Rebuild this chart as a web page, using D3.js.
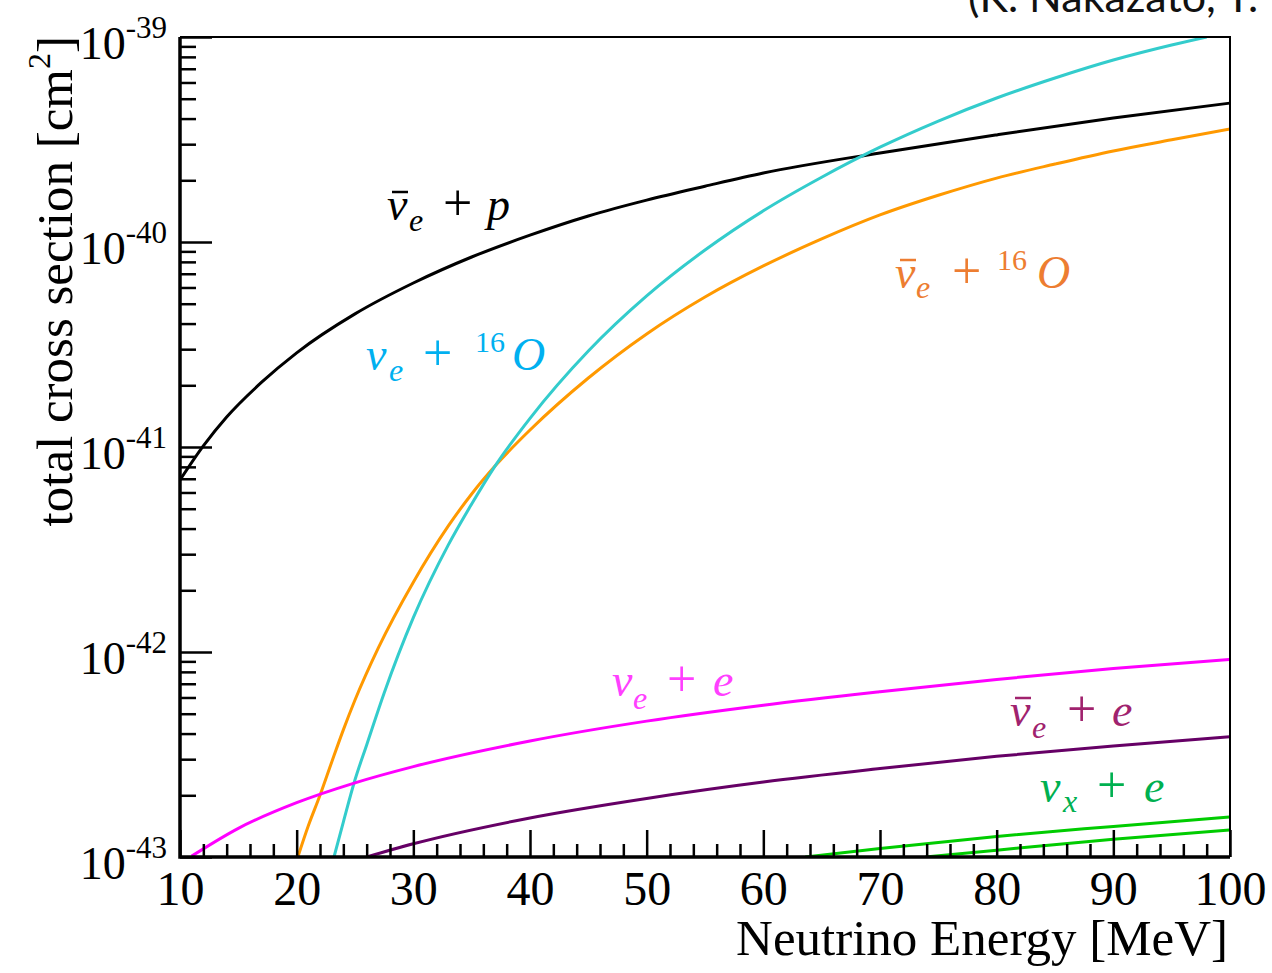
<!DOCTYPE html>
<html>
<head>
<meta charset="UTF-8">
<title>Neutrino cross sections</title>
<script src="https://d3js.org/d3.v7.min.js"></script>
<style>
html, body { margin: 0; padding: 0; background: white; }
svg { display: block; }
.axis text { font-family: 'Liberation Serif', 'Times New Roman', serif; fill: black; }
.lbl { font-family: 'Liberation Serif', 'Times New Roman', serif; }
</style>
</head>
<body>
<script>
/*global d3*/
// total cross sections [cm^2] vs neutrino energy [MeV]

var ibdE  = [10, 12, 14, 17, 20, 25, 30, 35, 40, 45, 50, 55, 60, 70, 80, 90, 100];
var ibdXS = [6.9e-42, 1.012e-41, 1.4e-41, 2.07e-41, 2.88e-41, 4.46e-41, 6.31e-41, 8.45e-41,
             1.08e-40, 1.34e-40, 1.6e-40, 1.87e-40, 2.17e-40, 2.72e-40, 3.33e-40, 4.03e-40, 4.76e-40];

var nueOE  = [23.2, 24, 25, 26, 27.5, 30, 33, 35, 37, 40, 45, 50, 55, 60, 65, 70, 75, 80, 85, 90, 95, 98];
var nueOXS = [1.0e-43, 1.48e-43, 2.38e-43, 3.52e-43, 6.31e-43, 1.47e-42, 3.33e-42, 5.27e-42, 8.07e-42,
              1.38e-41, 2.94e-41, 5.46e-41, 9.14e-41, 1.42e-40, 2.07e-40, 2.9e-40, 3.89e-40, 5.04e-40,
              6.31e-40, 7.72e-40, 9.14e-40, 1.0e-39];

var nuebOE  = [20.1, 21, 22, 23, 24, 25, 27, 30, 33, 35, 37, 40, 45, 50, 55, 60, 65, 70, 75, 80, 85, 90, 95, 100];
var nuebOXS = [1.0e-43, 1.42e-43, 2.0e-43, 2.9e-43, 4.17e-43, 5.83e-43, 1.047e-42, 2.19e-42, 4.12e-42,
               5.9e-42, 8.07e-42, 1.21e-41, 2.17e-41, 3.56e-41, 5.39e-41, 7.64e-41, 1.035e-40, 1.355e-40,
               1.69e-40, 2.05e-40, 2.4e-40, 2.78e-40, 3.15e-40, 3.56e-40];

var nueeE  = [11, 15, 20, 25, 30, 40, 50, 60, 70, 80, 90, 100];
var nueeXS = [1.01e-43, 1.38e-43, 1.84e-43, 2.3e-43, 2.76e-43, 3.68e-43, 4.6e-43, 5.5e-43, 6.4e-43, 7.35e-43, 8.3e-43, 9.2e-43];

var nuebeE  = [26, 30, 40, 50, 60, 70, 80, 90, 100];
var nuebeXS = [1.0e-43, 1.16e-43, 1.55e-43, 1.93e-43, 2.32e-43, 2.7e-43, 3.1e-43, 3.48e-43, 3.86e-43];

var nuxeE  = [63.6, 70, 80, 90, 100];
var nuxeXS = [1.0e-43, 1.1e-43, 1.26e-43, 1.41e-43, 1.57e-43];

var nuxbeE  = [73.9, 80, 90, 100];
var nuxbeXS = [1.0e-43, 1.08e-43, 1.22e-43, 1.355e-43];

var xMajor = [10, 20, 30, 40, 50, 60, 70, 80, 90, 100];
var yMajor = [1e-43, 1e-42, 1e-41, 1e-40, 1e-39];
var yExp   = ["-43", "-42", "-41", "-40", "-39"];

var width = 1272,
    height = 973;

var svg = d3.select("body").append("svg")
    .attr("width", width)
    .attr("height", height);

var x = d3.scaleLinear().domain([10, 100]).range([180, 1230]);
var y = d3.scaleLog().domain([1e-43, 1e-39]).range([857, 37]);

svg.append("clipPath").attr("id", "plot")
  .append("rect")
    .attr("x", x(10)).attr("y", y(1e-39))
    .attr("width", x(100) - x(10)).attr("height", y(1e-43) - y(1e-39));

var series = [
    {e: ibdE,   s: ibdXS,   c: "#000000"},
    {e: nuebOE, s: nuebOXS, c: "#ff9900"},
    {e: nueOE,  s: nueOXS,  c: "#33cccc"},
    {e: nueeE,  s: nueeXS,  c: "#ff00ff"},
    {e: nuebeE, s: nuebeXS, c: "#660066"},
    {e: nuxeE,  s: nuxeXS,  c: "#00cc00"},
    {e: nuxbeE, s: nuxbeXS, c: "#00cc00"}
];

var line = d3.line()
    .x(function(d) { return x(d[0]); })
    .y(function(d) { return y(d[1]); })
    .curve(d3.curveMonotoneX);

var curves = svg.append("g").attr("clip-path", "url(#plot)");
series.forEach(function(sr) {
    curves.append("path")
        .datum(d3.zip(sr.e, sr.s))
        .attr("d", line)
        .attr("fill", "none")
        .attr("stroke", sr.c)
        .attr("stroke-width", 3);
});

// frame (top / right)
svg.append("path")
    .attr("d", "M" + x(10) + "," + y(1e-39) + "H" + x(100) + "V" + y(1e-43))
    .attr("fill", "none")
    .attr("stroke", "black")
    .attr("stroke-width", 2);

// x axis
var xMinor = d3.range(12, 100, 2).filter(function(v) { return v % 10 != 0; });

svg.append("g")
    .attr("class", "axis")
    .attr("transform", "translate(0," + y(1e-43) + ")")
    .call(d3.axisBottom(x).tickValues(xMinor).tickSize(-13).tickSizeOuter(0).tickFormat(""))
    .call(function(g) { g.select(".domain").remove(); });

var xa = svg.append("g")
    .attr("class", "axis")
    .attr("transform", "translate(0," + y(1e-43) + ")")
    .call(d3.axisBottom(x).tickValues(xMajor).tickSize(-27).tickSizeOuter(0).tickPadding(14).tickFormat(d3.format("d")));
xa.select(".domain").remove();
xa.selectAll("text").style("font-size", "48px");

// y axis, minor ticks 2..9 per decade
var yMinor = [];
for (var k = -43; k < -39; k++) {
    for (var m = 2; m < 10; m++) yMinor.push(m * Math.pow(10, k));
}

svg.append("g")
    .attr("class", "axis")
    .attr("transform", "translate(" + x(10) + ",0)")
    .call(d3.axisLeft(y).tickValues(yMinor).tickSize(-16).tickSizeOuter(0).tickFormat(""))
    .call(function(g) { g.select(".domain").remove(); });

var ya = svg.append("g")
    .attr("class", "axis")
    .attr("transform", "translate(" + x(10) + ",0)")
    .call(d3.axisLeft(y).tickValues(yMajor).tickSize(-32).tickSizeOuter(0).tickPadding(13).tickFormat(""));
ya.select(".domain").remove();
ya.selectAll(".tick text")
    .attr("dy", "21px")
    .each(function(d, i) {
        var t = d3.select(this);
        t.append("tspan").text("10").style("font-size", "46px");
        t.append("tspan").text(yExp[i]).style("font-size", "31px").attr("dy", -21);
    });

svg.selectAll(".axis .tick line").attr("stroke-width", 2.5);

// axis lines
svg.append("path")
    .attr("d", "M" + x(10) + "," + y(1e-39) + "V" + y(1e-43) + "H" + x(100))
    .attr("fill", "none")
    .attr("stroke", "black")
    .attr("stroke-width", 3.5);

// axis titles
svg.append("text")
    .attr("class", "lbl")
    .attr("x", 1228)
    .attr("y", 955)
    .attr("text-anchor", "end")
    .style("font-size", "51px")
    .text("Neutrino Energy [MeV]");

var yt = svg.append("text")
    .attr("class", "lbl")
    .attr("transform", "translate(72,36) rotate(-90)")
    .attr("text-anchor", "end")
    .style("font-size", "51px");
yt.append("tspan").text("total cross section [cm");
yt.append("tspan").text("2").style("font-size", "32px").attr("dy", -22);
yt.append("tspan").text("]").attr("dy", 22);

// curve labels; bar = anti-neutrino macron over the nu
function label(x0, y0, color, bar, parts) {
    var g = svg.append("g").attr("fill", color);
    if (bar) {
        g.append("line")
            .attr("x1", x0 + 5).attr("x2", x0 + 21)
            .attr("y1", y0 - 28).attr("y2", y0 - 28)
            .attr("stroke", color)
            .attr("stroke-width", 2.5);
    }
    parts.forEach(function(p) {
        g.append("text")
            .attr("class", "lbl")
            .attr("x", x0 + p[1])
            .attr("y", y0 + p[2])
            .style("font-size", p[3] + "px")
            .style("font-style", p[4] ? "italic" : "normal")
            .text(p[0]);
    });
}

label(387, 220, "#000000", true,  [["\u03bd", 0, 0, 46, 1], ["e", 22, 11, 32, 1], ["+", 56, 0, 52, 0], ["p", 100, 0, 46, 1]]);
label(895, 288, "#ed7d31", true,  [["\u03bd", 0, 0, 46, 1], ["e", 21, 10, 32, 1], ["+", 57, 0, 52, 0], ["16", 102, -18, 30, 0], ["O", 142, 0, 46, 1]]);
label(366, 370, "#00b0f0", false, [["\u03bd", 0, 0, 46, 1], ["e", 23, 11, 32, 1], ["+", 57, 0, 52, 0], ["16", 109, -18, 30, 0], ["O", 146, 0, 46, 1]]);
label(612, 696, "#ff40ff", false, [["\u03bd", 0, 0, 46, 1], ["e", 21, 13, 32, 1], ["+", 55, 0, 52, 0], ["e", 101, 0, 46, 1]]);
label(1010, 726, "#a0226e", true, [["\u03bd", 0, 0, 46, 1], ["e", 22, 12, 32, 1], ["+", 57, 0, 52, 0], ["e", 102, 0, 46, 1]]);
label(1040, 802, "#00b050", false, [["\u03bd", 0, 0, 46, 1], ["x", 23, 10, 32, 1], ["+", 57, 0, 52, 0], ["e", 104, 0, 46, 1]]);

// reference note, partly off the page
svg.append("text")
    .attr("x", 968)
    .attr("y", 12)
    .style("font-family", "Lato, 'Open Sans', sans-serif")
    .style("font-size", "43px")
    .attr("fill", "#111")
    .text("(K. Nakazato, T.");
</script>
</body>
</html>
